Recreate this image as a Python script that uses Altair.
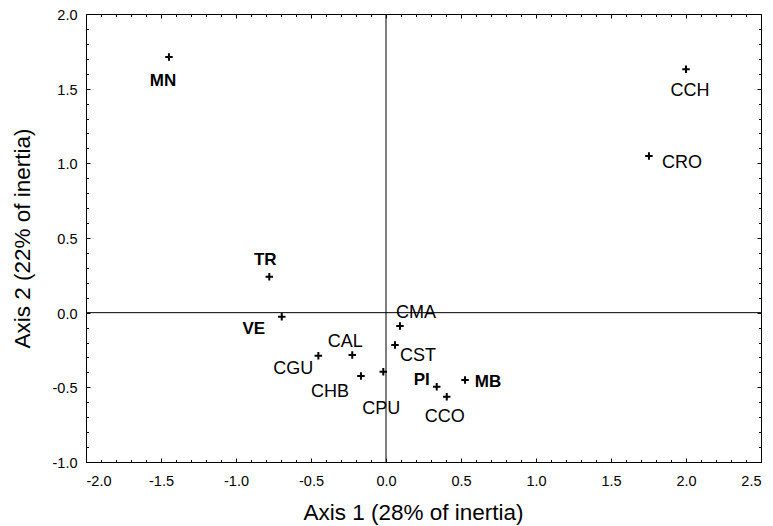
import altair as alt
import pandas as pd

# ---- data ----
labels = ["MN", "CCH", "CRO", "TR", "VE", "CMA", "CAL", "CGU", "CST", "CHB", "CPU", "PI", "CCO", "MB"]
axis1 = [-1.447, 2.000, 1.753, -0.778, -0.695, 0.093, -0.225, -0.451, 0.060, -0.167, -0.018, 0.338, 0.405, 0.527]
axis2 = [1.712, 1.630, 1.049, 0.241, -0.027, -0.089, -0.283, -0.288, -0.217, -0.424, -0.395, -0.496, -0.563, -0.451]
bold_labels = ["MN", "TR", "VE", "PI", "MB"]

x_major = [-2.0, -1.5, -1.0, -0.5, 0.0, 0.5, 1.0, 1.5, 2.0, 2.5]
y_major = [-1.0, -0.5, 0.0, 0.5, 1.0, 1.5, 2.0]
x_minor = [round(-2.0 + 0.1 * i, 1) for i in range(46)]
y_minor = [round(-1.0 + 0.1 * i, 1) for i in range(31)]

df = pd.DataFrame({"label": labels, "a1": axis1, "a2": axis2})

# ---- layout / style ----
W, H = 675, 448
FONT = "Liberation Sans"
# label placement relative to the marker (pixels)
label_offsets = {
    "MN": (-6, 24), "CCH": (4, 22), "CRO": (33, 7), "TR": (-4, -17),
    "VE": (-28, 12), "CMA": (16, -13), "CAL": (-7, -13), "CGU": (-25, 13),
    "CST": (23, 11), "CHB": (-31, 16), "CPU": (-2, 37), "PI": (-15, -7),
    "CCO": (-2, 20), "MB": (23, 2),
}

xs = alt.Scale(domain=[-2.0, 2.5], nice=False, zero=False)
ys = alt.Scale(domain=[-1.0, 2.0], nice=False, zero=False)
fmt_expr = "replace(format(datum.value, '.1f'), '\u2212', '-')"


def tick_axis(orient, values, size):
    return alt.Axis(orient=orient, values=values, tickSize=alt.ExprRef(expr=str(-size)),
                    labels=False, title=None, domain=False, grid=False,
                    tickColor="black", tickWidth=1)


base = alt.Chart(df)

# invisible layers carrying the extra tick axes
frame_major = base.mark_point(opacity=0).encode(
    x=alt.X("a1:Q", scale=xs, axis=tick_axis("top", x_major, 4)),
    y=alt.Y("a2:Q", scale=ys, axis=tick_axis("right", y_major, 4)),
)
minor_bl = base.mark_point(opacity=0).encode(
    x=alt.X("a1:Q", scale=xs, axis=tick_axis("bottom", x_minor, 2.5)),
    y=alt.Y("a2:Q", scale=ys, axis=tick_axis("left", y_minor, 2.5)),
)
minor_tr = base.mark_point(opacity=0).encode(
    x=alt.X("a1:Q", scale=xs, axis=tick_axis("top", x_minor, 2.5)),
    y=alt.Y("a2:Q", scale=ys, axis=tick_axis("right", y_minor, 2.5)),
)

points = base.mark_point(
    shape="M-1,0H1M0,-1V1", filled=False, stroke="black", strokeWidth=2, size=56, opacity=1
).encode(
    x=alt.X("a1:Q", scale=xs, axis=alt.Axis(
        orient="bottom", values=x_major, tickSize=alt.ExprRef(expr="-4"), labelPadding=16,
        labelExpr=fmt_expr, labelFont=FONT, labelFontSize=14.5, labelColor="black",
        title="Axis 1 (28% of inertia)", titleFont=FONT, titleFontSize=22.5, titleFontWeight="normal",
        titleColor="black", titleX=327, titleY=50, titleBaseline="middle", titleAlign="center",
        domain=False, grid=False, tickColor="black")),
    y=alt.Y("a2:Q", scale=ys, axis=alt.Axis(
        orient="left", values=y_major, tickSize=alt.ExprRef(expr="-4"), labelPadding=13,
        labelOffset=1.5,
        labelExpr=fmt_expr, labelFont=FONT, labelFontSize=14.5, labelColor="black",
        title="Axis 2  (22% of inertia)", titleFont=FONT, titleFontSize=22.5, titleFontWeight="normal",
        titleColor="black", titleX=-64, titleY=H / 2, titleBaseline="middle", titleAlign="center",
        titleAngle=270, domain=False, grid=False, tickColor="black")),
)

vline = alt.Chart(pd.DataFrame({"v": [0.0]})).mark_rule(color="black", strokeWidth=1).encode(
    x=alt.X("v:Q", scale=xs, axis=None))
hline = alt.Chart(pd.DataFrame({"v": [0.0]})).mark_rule(color="black", strokeWidth=1).encode(
    y=alt.Y("v:Q", scale=ys, axis=None))

texts = []
for name in labels:
    dx, dy = label_offsets[name]
    is_bold = name in bold_labels
    t = base.transform_filter(alt.datum.label == name).mark_text(
        dx=dx, dy=dy, align="center", baseline="middle", font=FONT,
        fontSize=17 if is_bold else 18, fontWeight="bold" if is_bold else "normal", color="black",
    ).encode(
        x=alt.X("a1:Q", scale=xs, axis=None),
        y=alt.Y("a2:Q", scale=ys, axis=None),
        text="label:N",
    )
    texts.append(t)

chart = alt.layer(frame_major, minor_bl, minor_tr, vline, hline, points, *texts).resolve_axis(
    x="independent", y="independent"
).properties(
    width=W, height=H,
    autosize=alt.AutoSizeParams(type="none"),
    padding={"left": 78, "top": 6, "right": 4, "bottom": 64},
).configure_view(stroke="black", strokeWidth=1)

chart.save("out.html", embed_options={"renderer": "svg", "actions": False})
